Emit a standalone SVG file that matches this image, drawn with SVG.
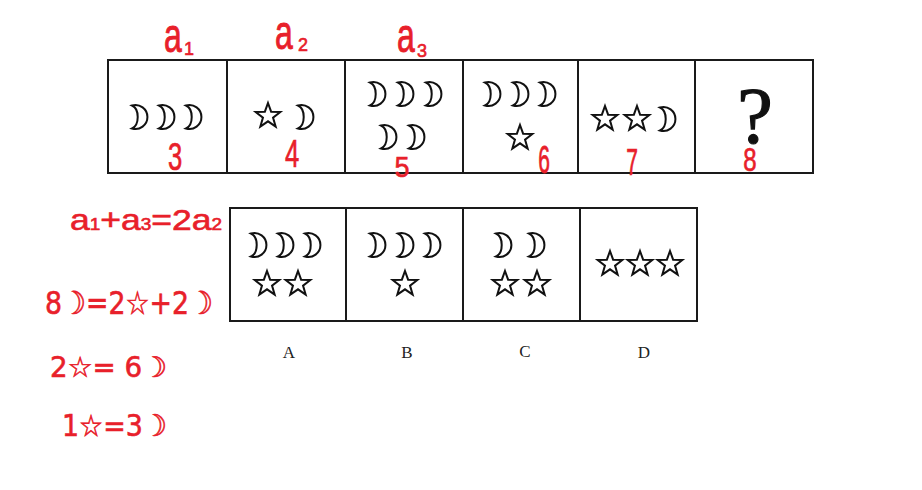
<svg xmlns="http://www.w3.org/2000/svg" xmlns:xlink="http://www.w3.org/1999/xlink" width="922" height="490" viewBox="0 0 922 490">
<style>
.box{fill:#fff;stroke:#1a1a1a;stroke-width:2}
.ink{fill:#fff;stroke:#111;stroke-width:2;stroke-linejoin:miter}
.lbl{font-family:"Liberation Serif",serif;font-size:17px;fill:#222;text-anchor:middle}
.red{font-family:"Liberation Sans",sans-serif;fill:#e8202a;stroke:#e8202a;stroke-width:0.6}
.redsym{font-family:"DejaVu Sans",sans-serif;fill:#e8202a;stroke:#e8202a;stroke-width:0.6}
</style>
<defs>
<path id="moon" d="M-7,-11.5 A12,12 0 1 1 -7,11.5 A8,12 0 0 0 -7,-11.5 Z"/>
<polygon id="star" points="0,-13 3.12,-4.29 12.36,-4.02 5.04,1.64 7.64,10.52 0,5.3 -7.64,10.52 -5.04,1.64 -12.36,-4.02 -3.12,-4.29"/>
</defs>
<rect width="922" height="490" fill="#fff"/>

<g id="q1"><rect class="box" x="108" y="60" width="119" height="113"/>
<use href="#moon" class="ink" x="139" y="117"/><use href="#moon" class="ink" x="166" y="117"/><use href="#moon" class="ink" x="193" y="117"/></g>
<g id="q2"><rect class="box" x="227" y="60" width="118" height="113"/>
<use href="#star" class="ink" x="268" y="116"/><use href="#moon" class="ink" x="305" y="117"/></g>
<g id="q3"><rect class="box" x="345" y="60" width="118" height="113"/>
<use href="#moon" class="ink" x="377" y="94"/><use href="#moon" class="ink" x="405" y="94"/><use href="#moon" class="ink" x="433" y="94"/>
<use href="#moon" class="ink" x="388" y="137"/><use href="#moon" class="ink" x="416" y="137"/></g>
<g id="q4"><rect class="box" x="463" y="60" width="115" height="113"/>
<use href="#moon" class="ink" x="492" y="94"/><use href="#moon" class="ink" x="520" y="94"/><use href="#moon" class="ink" x="547" y="94"/>
<use href="#star" class="ink" x="520" y="138"/></g>
<g id="q5"><rect class="box" x="578" y="60" width="117" height="113"/>
<use href="#star" class="ink" x="605" y="119"/><use href="#star" class="ink" x="637" y="119"/><use href="#moon" class="ink" x="667" y="119"/></g>
<g id="q6"><rect class="box" x="695" y="60" width="118" height="113"/>
<text x="755" y="143" font-family="Liberation Serif,serif" font-size="80" text-anchor="middle" fill="#111" stroke="#111" stroke-width="1.2">?</text></g>

<g id="optA"><rect class="box" x="230" y="208" width="116" height="113"/>
<use href="#moon" class="ink" x="258" y="245"/><use href="#moon" class="ink" x="285" y="245"/><use href="#moon" class="ink" x="312" y="245"/>
<use href="#star" class="ink" x="267" y="284"/><use href="#star" class="ink" x="298" y="284"/>
<text class="lbl" x="289" y="358">A</text></g>
<g id="optB"><rect class="box" x="346" y="208" width="117" height="113"/>
<use href="#moon" class="ink" x="377" y="245"/><use href="#moon" class="ink" x="405" y="245"/><use href="#moon" class="ink" x="432" y="245"/>
<use href="#star" class="ink" x="405" y="284"/>
<text class="lbl" x="407" y="358">B</text></g>
<g id="optC"><rect class="box" x="463" y="208" width="117" height="113"/>
<use href="#moon" class="ink" x="503" y="245"/><use href="#moon" class="ink" x="536" y="245"/>
<use href="#star" class="ink" x="505" y="284"/><use href="#star" class="ink" x="537" y="284"/>
<text class="lbl" x="525" y="357">C</text></g>
<g id="optD"><rect class="box" x="580" y="208" width="117" height="113"/>
<use href="#star" class="ink" x="610" y="264"/><use href="#star" class="ink" x="640" y="264"/><use href="#star" class="ink" x="670" y="264"/>
<text class="lbl" x="644" y="358">D</text></g>

<g id="annotations">
<text class="red" transform="translate(164,52) scale(1,1.5)" font-size="32">a</text>
<text class="red" x="184" y="55" font-size="18">1</text>
<text class="red" transform="translate(275,49) scale(1,1.5)" font-size="32">a</text>
<text class="red" x="298" y="51" font-size="18">2</text>
<text class="red" transform="translate(397,52) scale(1,1.5)" font-size="32">a</text>
<text class="red" x="417" y="57" font-size="18">3</text>
<text class="red" transform="translate(175,170) scale(0.8,1.2)" font-size="32" text-anchor="middle">3</text>
<text class="red" transform="translate(292,167) scale(0.8,1.2)" font-size="32" text-anchor="middle">4</text>
<text class="red" transform="translate(402,177) scale(0.9,1.0)" font-size="30" text-anchor="middle">5</text>
<text class="red" transform="translate(544,173) scale(0.7,1.3)" font-size="30" text-anchor="middle">6</text>
<text class="red" transform="translate(632,175) scale(0.7,1.2)" font-size="30" text-anchor="middle">7</text>
<text class="red" transform="translate(750,171) scale(0.8,1.1)" font-size="30" text-anchor="middle">8</text>
<text class="red" x="70" y="230" font-size="30" textLength="152" lengthAdjust="spacingAndGlyphs">a<tspan font-size="16">1</tspan>+a<tspan font-size="16">3</tspan>=2a<tspan font-size="16">2</tspan></text>
<text class="redsym" x="45" y="314" font-size="32" textLength="168" lengthAdjust="spacingAndGlyphs">8☽=2☆+2☽</text>
<text class="redsym" x="50" y="377" font-size="28" textLength="117" lengthAdjust="spacingAndGlyphs">2☆= 6☽</text>
<text class="redsym" x="62" y="436" font-size="30" textLength="105" lengthAdjust="spacingAndGlyphs">1☆=3☽</text>
</g>
</svg>
